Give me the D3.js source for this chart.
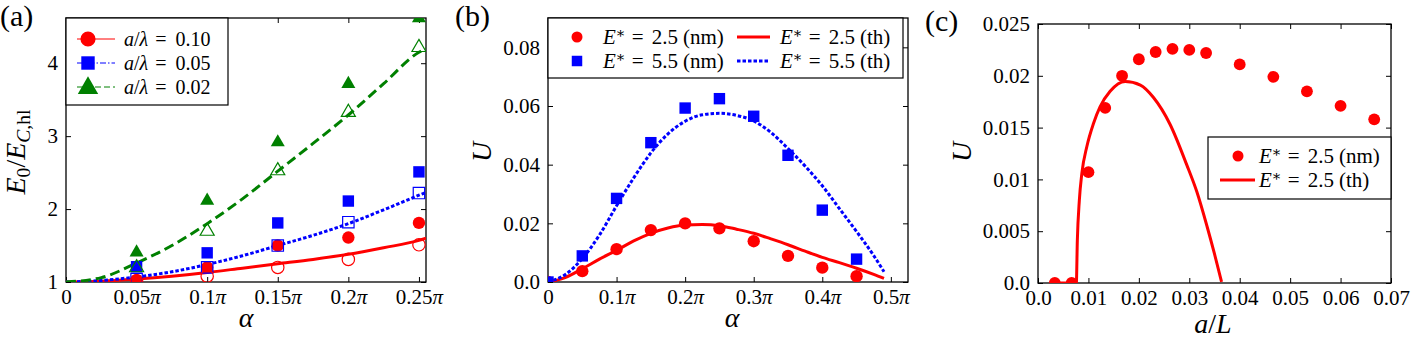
<!DOCTYPE html>
<html>
<head>
<meta charset="utf-8">
<script src="https://cdn.jsdelivr.net/npm/d3@7"></script>
<style>
  body { margin: 0; background: #fff; }
  text { font-family: "Liberation Serif", "DejaVu Serif", serif; fill: #000; }
</style>
</head>
<body>
<script>
// ---- panel (a) data : alpha in units of pi ----
const alphaA = [0.05, 0.10, 0.15, 0.20, 0.25];
const redFilledA = [1.03, 1.2, 1.5, 1.61, 1.81];
const redOpenA = [1.01, 1.08, 1.2, 1.31, 1.51];
const blueFilledA = [1.21, 1.4, 1.81, 2.11, 2.51];
const blueOpenA = [1.04, 1.2, 1.5, 1.82, 2.22];
const greenFilledA = [1.42, 2.13, 2.93, 3.73, 4.63];
const greenOpenA = [1.21, 1.71, 2.54, 3.34, 4.23];
const alphaLineA = [0, 0.025, 0.05, 0.075, 0.1, 0.125, 0.15, 0.175, 0.2, 0.225, 0.25, 0.255];
const redLineA = [1, 1.01, 1.04, 1.08, 1.13, 1.19, 1.25, 1.31, 1.38, 1.47, 1.57, 1.6];
const blueLineA = [1, 1.02, 1.07, 1.14, 1.24, 1.36, 1.5, 1.64, 1.8, 1.99, 2.19, 2.23];
const greenLineA = [1, 1.06, 1.26, 1.5, 1.8, 2.14, 2.52, 2.9, 3.29, 3.72, 4.15, 4.2];
const xTicksA = [0, 0.05, 0.1, 0.15, 0.2, 0.25];
const xTickLabelsA = ["0", "0.05", "0.1", "0.15", "0.2", "0.25"];
const yTicksA = [1, 2, 3, 4];
const legendA = ["0.10", "0.05", "0.02"];

// ---- panel (b) data ----
const alphaB = [0, 0.05, 0.1, 0.15, 0.2, 0.25, 0.3, 0.35, 0.4, 0.45];
const redNmB = [0, 0.0037, 0.0112, 0.0177, 0.0200, 0.0183, 0.0139, 0.0089, 0.0049, 0.0020];
const blueNmB = [0, 0.0089, 0.0285, 0.0475, 0.0593, 0.0625, 0.0565, 0.0432, 0.0245, 0.0078];
const alphaLineB = [0, 0.025, 0.05, 0.075, 0.1, 0.125, 0.15, 0.175, 0.2, 0.225, 0.25, 0.275, 0.3, 0.325, 0.35, 0.375, 0.4, 0.425, 0.45, 0.475, 0.49];
const redThB = [0, 0.0015, 0.0045, 0.0078, 0.0108, 0.014, 0.0166, 0.0184, 0.0194, 0.0196, 0.0192, 0.018, 0.0166, 0.0147, 0.0127, 0.0105, 0.0084, 0.0066, 0.0047, 0.0026, 0.0012];
const blueThB = [0, 0.0025, 0.008, 0.016, 0.026, 0.0355, 0.044, 0.0505, 0.0548, 0.057, 0.0575, 0.0568, 0.0549, 0.051, 0.0455, 0.0395, 0.0328, 0.025, 0.0172, 0.009, 0.0035];
const xTicksB = [0, 0.1, 0.2, 0.3, 0.4, 0.5];
const xTickLabelsB = ["0", "0.1", "0.2", "0.3", "0.4", "0.5"];
const yTicksB = [0, 0.02, 0.04, 0.06, 0.08];
const yTickLabelsB = ["0.0", "0.02", "0.04", "0.06", "0.08"];

// ---- panel (c) data ----
const aLC = [0.00333, 0.00667, 0.01, 0.01333, 0.01667, 0.02, 0.02333, 0.02667, 0.03, 0.03333, 0.04, 0.04667, 0.05333, 0.06, 0.06667];
const uNmC = [0, 0, 0.0107, 0.0169, 0.0200, 0.0216, 0.0223, 0.0226, 0.0225, 0.0222, 0.0211, 0.0199, 0.0185, 0.0171, 0.0158];
const aLLineC = [0.00333, 0.0076, 0.0078, 0.0082, 0.0087, 0.0097, 0.011, 0.0123, 0.0143, 0.0173, 0.0203, 0.0229, 0.0262, 0.0295, 0.0315, 0.0335, 0.035, 0.0364];
const uThC = [0, 0, 0.0041, 0.008, 0.0106, 0.0132, 0.0154, 0.017, 0.0185, 0.01945, 0.0191, 0.0179, 0.0153, 0.0114, 0.0088, 0.0055, 0.0028, 0.0001];
const xTicksC = [0, 0.01, 0.02, 0.03, 0.04, 0.05, 0.06, 0.07];
const xTickLabelsC = ["0.0", "0.01", "0.02", "0.03", "0.04", "0.05", "0.06", "0.07"];
const yTicksC = [0, 0.005, 0.01, 0.015, 0.02, 0.025];
const yTickLabelsC = ["0.0", "0.005", "0.01", "0.015", "0.02", "0.025"];

const RED = "#ff0000", BLUE = "#0000ff", GREEN = "#008000";
const TICK_FONT = 21, LEG_FONT = 21, LABEL_FONT = 28;

const svg = d3.select("body").append("svg")
  .attr("width", 1412).attr("height", 341);

// build one framed panel with inward ticks on all sides
function makePanel(box, xDom, yDom, xt, xLab, yt, yLab, piX) {
  const x = d3.scaleLinear().domain(xDom).range([box.l, box.r]);
  const y = d3.scaleLinear().domain(yDom).range([box.b, box.t]);
  const g = svg.append("g");

  const bottom = g.append("g").attr("transform", `translate(0,${box.b})`)
    .call(d3.axisBottom(x).tickValues(xt).tickSizeInner(-5).tickSizeOuter(0).tickPadding(7)
      .tickFormat((d, i) => xLab[i]));
  const top = g.append("g").attr("transform", `translate(0,${box.t})`)
    .call(d3.axisTop(x).tickValues(xt).tickSizeInner(-5).tickSizeOuter(0).tickFormat(""));
  const left = g.append("g").attr("transform", `translate(${box.l},0)`)
    .call(d3.axisLeft(y).tickValues(yt).tickSizeInner(-5).tickSizeOuter(0).tickPadding(8)
      .tickFormat((d, i) => yLab[i]));
  const right = g.append("g").attr("transform", `translate(${box.r},0)`)
    .call(d3.axisRight(y).tickValues(yt).tickSizeInner(-5).tickSizeOuter(0).tickFormat(""));
  [bottom, top, left, right].forEach(a => {
    a.select(".domain").remove();
    a.selectAll("line").attr("stroke", "#000").attr("stroke-width", 1);
    a.selectAll("text").style("font-size", TICK_FONT + "px").style("font-family", "Liberation Serif");
  });
  if (piX) {
    bottom.selectAll("text").each(function (d) {
      if (d !== 0) d3.select(this).append("tspan").style("font-style", "italic").text("π");
    });
  }
  g.append("rect").attr("x", box.l).attr("y", box.t)
    .attr("width", box.r - box.l).attr("height", box.b - box.t)
    .attr("fill", "none").attr("stroke", "#000").attr("stroke-width", 1.3);
  const clip = "clip" + Math.round(box.l);
  svg.append("clipPath").attr("id", clip).append("rect")
    .attr("x", box.l).attr("y", box.t).attr("width", box.r - box.l).attr("height", box.b - box.t);
  const plot = g.append("g").attr("clip-path", `url(#${clip})`);
  return { x, y, g, plot };
}

function drawLine(p, xs, ys, color, dash, w) {
  p.plot.append("path")
    .datum(xs.map((v, i) => [v, ys[i]]))
    .attr("d", d3.line().x(d => p.x(d[0])).y(d => p.y(d[1])).curve(d3.curveMonotoneX))
    .attr("fill", "none").attr("stroke", color).attr("stroke-width", w || 3)
    .attr("stroke-dasharray", dash || null);
}

function drawMarks(parent, xs, ys, sx, sy, type, color, filled, size) {
  const sym = { circle: d3.symbolCircle, square: d3.symbolSquare, triangle: d3.symbolTriangle }[type];
  parent.selectAll(null).data(xs.map((v, i) => [v, ys[i]])).enter().append("path")
    .attr("d", d3.symbol().type(sym).size(size))
    .attr("transform", d => `translate(${sx(d[0])},${sy(d[1]) + (type === "triangle" ? 1 : 0)})`)
    .attr("fill", filled ? color : "none")
    .attr("stroke", color).attr("stroke-width", filled ? 0 : 1.2);
}

function mathText(parent, x, y, parts, size, anchor) {
  const t = parent.append("text").attr("x", x).attr("y", y)
    .style("font-size", size + "px").attr("text-anchor", anchor || "start");
  parts.forEach(p => {
    const s = t.append("tspan").text(p.t);
    if (p.i) s.style("font-style", "italic");
    if (p.sub) s.attr("baseline-shift", "-25%").style("font-size", (size * 0.7) + "px");
    if (p.sup) s.attr("baseline-shift", "40%").style("font-size", (size * 0.7) + "px");
    if (p.dx) s.attr("dx", p.dx);
  });
  return t;
}

// ================= panel (a) =================
const A = makePanel({ l: 66, r: 426, t: 18, b: 282 }, [0, 0.255], [1, 4.62],
  xTicksA, xTickLabelsA, yTicksA, yTicksA.map(String), true);
drawLine(A, alphaLineA, redLineA, RED, null);
drawLine(A, alphaLineA, blueLineA, BLUE, "3.5,2");
drawLine(A, alphaLineA, greenLineA, GREEN, "10,5");
drawMarks(A.plot, alphaA, greenFilledA, A.x, A.y, "triangle", GREEN, true, 85);
drawMarks(A.plot, alphaA, blueFilledA, A.x, A.y, "square", BLUE, true, 130);
drawMarks(A.plot, alphaA, redFilledA, A.x, A.y, "circle", RED, true, 120);
drawMarks(A.plot, alphaA, greenOpenA, A.x, A.y, "triangle", GREEN, false, 85);
drawMarks(A.plot, alphaA, blueOpenA, A.x, A.y, "square", BLUE, false, 130);
drawMarks(A.plot, alphaA, redOpenA, A.x, A.y, "circle", RED, false, 120);

// legend (a)
const legA = A.g.append("g");
legA.append("rect").attr("x", 66).attr("y", 18).attr("width", 162).attr("height", 87)
  .attr("fill", "#fff").attr("stroke", "#000").attr("stroke-width", 1.2);
const legAColors = [RED, BLUE, GREEN];
const legADash = [null, "6,2,1.5,2", "6,3"];
const legAType = ["circle", "square", "triangle"];
legendA.forEach((v, i) => {
  const yy = 39 + i * 24;
  legA.append("line").attr("x1", 77).attr("x2", 115).attr("y1", yy).attr("y2", yy)
    .attr("stroke", legAColors[i]).attr("stroke-width", 1).attr("stroke-dasharray", legADash[i]);
  drawMarks(legA, [0], [0], () => 88, () => yy, legAType[i], legAColors[i], true, 180);
  mathText(legA, 124, yy + 7, [{ t: "a", i: 1 }, { t: "/" }, { t: "λ", i: 1 }, { t: "=", dx: 7 }, { t: v, dx: 9 }], 20);
});

// labels (a)
svg.append("text").attr("x", 0).attr("y", 26).style("font-size", "30px").text("(a)");
mathText(svg, 246, 327, [{ t: "α", i: 1 }], LABEL_FONT, "middle");
mathText(svg.append("g").attr("transform", "translate(25,152) rotate(-90)"), 0, 0,
  [{ t: "E", i: 1 }, { t: "0", sub: 1 }, { t: "/" }, { t: "E", i: 1 }, { t: "C", i: 1, sub: 1 }, { t: ",hl", sub: 1 }], LABEL_FONT, "middle");

// ================= panel (b) =================
const B = makePanel({ l: 548, r: 908, t: 18, b: 282 }, [0, 0.525], [0, 0.09],
  xTicksB, xTickLabelsB, yTicksB, yTickLabelsB, true);
drawLine(B, alphaLineB, redThB, RED, null);
drawLine(B, alphaLineB, blueThB, BLUE, "3.5,2");
drawMarks(B.plot, alphaB, redNmB, B.x, B.y, "circle", RED, true, 120);
drawMarks(B.plot, alphaB, blueNmB, B.x, B.y, "square", BLUE, true, 130);

const legB = B.g.append("g");
legB.append("rect").attr("x", 548).attr("y", 18).attr("width", 355).attr("height", 60)
  .attr("fill", "#fff").attr("stroke", "#000").attr("stroke-width", 1.2);
drawMarks(legB, [0], [0], () => 577, () => 37, "circle", RED, true, 95);
drawMarks(legB, [0], [0], () => 577, () => 61, "square", BLUE, true, 110);
legB.append("line").attr("x1", 737).attr("x2", 770).attr("y1", 37).attr("y2", 37)
  .attr("stroke", RED).attr("stroke-width", 3);
legB.append("line").attr("x1", 737).attr("x2", 770).attr("y1", 61).attr("y2", 61)
  .attr("stroke", BLUE).attr("stroke-width", 3).attr("stroke-dasharray", "3.5,2");
const estar = (v, k) => [{ t: "E", i: 1 }, { t: "∗", sup: 1 }, { t: "=", dx: 6 }, { t: v, dx: 8 }, { t: "(" + k + ")", dx: 5 }];
mathText(legB, 603, 44, estar("2.5", "nm"), LEG_FONT);
mathText(legB, 603, 68, estar("5.5", "nm"), LEG_FONT);
mathText(legB, 780, 44, estar("2.5", "th"), LEG_FONT);
mathText(legB, 780, 68, estar("5.5", "th"), LEG_FONT);

svg.append("text").attr("x", 455).attr("y", 26).style("font-size", "30px").text("(b)");
mathText(svg, 732, 327, [{ t: "α", i: 1 }], LABEL_FONT, "middle");
mathText(svg.append("g").attr("transform", "translate(491,152) rotate(-90)"), 0, 0, [{ t: "U", i: 1 }], LABEL_FONT, "middle");

// ================= panel (c) =================
const C = makePanel({ l: 1038, r: 1391, t: 24, b: 283 }, [0, 0.07], [0, 0.025],
  xTicksC, xTickLabelsC, yTicksC, yTickLabelsC, false);
drawLine(C, aLLineC, uThC, RED, null);
drawMarks(C.plot, aLC, uNmC, C.x, C.y, "circle", RED, true, 110);

const legC = C.g.append("g");
legC.append("rect").attr("x", 1208).attr("y", 137).attr("width", 183).attr("height", 62)
  .attr("fill", "#fff").attr("stroke", "#000").attr("stroke-width", 1.2);
drawMarks(legC, [0], [0], () => 1238, () => 156, "circle", RED, true, 95);
legC.append("line").attr("x1", 1220).attr("x2", 1255).attr("y1", 180).attr("y2", 180)
  .attr("stroke", RED).attr("stroke-width", 3);
mathText(legC, 1259, 163, estar("2.5", "nm"), LEG_FONT);
mathText(legC, 1259, 187, estar("2.5", "th"), LEG_FONT);

svg.append("text").attr("x", 925).attr("y", 31).style("font-size", "30px").text("(c)");
mathText(svg, 1213, 333, [{ t: "a", i: 1 }, { t: "/" }, { t: "L", i: 1 }], LABEL_FONT, "middle");
mathText(svg.append("g").attr("transform", "translate(971,152) rotate(-90)"), 0, 0, [{ t: "U", i: 1 }], LABEL_FONT, "middle");
</script>
</body>
</html>
